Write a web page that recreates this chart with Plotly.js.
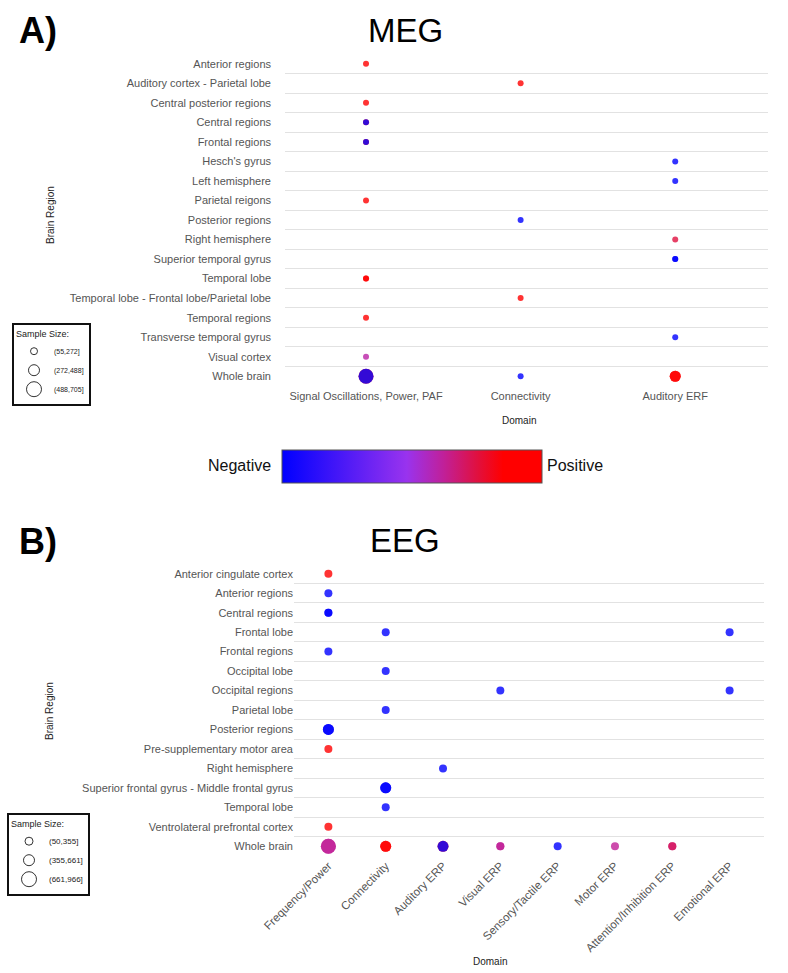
<!DOCTYPE html>
<html>
<head>
<meta charset="utf-8">
<script src="https://cdn.plot.ly/plotly-3.0.1.min.js"></script>
<style>html,body{margin:0;padding:0;background:#fff;}#chart{width:788px;height:973px;}</style>
</head>
<body>
<div id="chart"></div>
<script>
// ---------------- DATA ----------------
// MEG
const megRegions = [
  'Anterior regions','Auditory cortex - Parietal lobe','Central posterior regions','Central regions',
  'Frontal regions',"Hesch's gyrus",'Left hemisphere','Parietal reigons','Posterior regions',
  'Right hemisphere','Superior temporal gyrus','Temporal lobe','Temporal lobe - Frontal lobe/Parietal lobe',
  'Temporal regions','Transverse temporal gyrus','Visual cortex','Whole brain'
];
const megDomains = ['Signal Oscillations, Power, PAF','Connectivity','Auditory ERF'];
const megSizeBins = ['(55,272]','(272,488]','(488,705]'];
// findings (one entry per reported finding; effect: -1 negative ... +1 positive; bin: sample-size bin index)
const megFindRegion = [
  'Anterior regions','Auditory cortex - Parietal lobe','Central posterior regions',
  'Central regions','Central regions','Frontal regions','Frontal regions',
  "Hesch's gyrus",'Left hemisphere','Parietal reigons','Posterior regions','Right hemisphere',
  'Superior temporal gyrus','Superior temporal gyrus','Temporal lobe','Temporal lobe',
  'Temporal lobe - Frontal lobe/Parietal lobe','Temporal regions','Transverse temporal gyrus','Visual cortex',
  'Whole brain','Whole brain','Whole brain','Whole brain','Whole brain'
];
const megFindDomain = [
  'Signal Oscillations, Power, PAF','Connectivity','Signal Oscillations, Power, PAF',
  'Signal Oscillations, Power, PAF','Signal Oscillations, Power, PAF','Signal Oscillations, Power, PAF','Signal Oscillations, Power, PAF',
  'Auditory ERF','Auditory ERF','Signal Oscillations, Power, PAF','Connectivity','Auditory ERF',
  'Auditory ERF','Auditory ERF','Signal Oscillations, Power, PAF','Signal Oscillations, Power, PAF',
  'Connectivity','Signal Oscillations, Power, PAF','Auditory ERF','Signal Oscillations, Power, PAF',
  'Signal Oscillations, Power, PAF','Signal Oscillations, Power, PAF','Connectivity','Auditory ERF','Auditory ERF'
];
const megFindEffect = [
  1, 1, 1,
  1, -1, 1, -1,
  -1, -1, 1, -1, 0.5,
  -1, -1, 1, 1,
  1, 1, -1, 0.2,
  1, -1, -1, 1, 1
];
const megFindBin = [
  0, 0, 0,
  0, 0, 0, 0,
  0, 0, 0, 0, 0,
  0, 0, 0, 0,
  0, 0, 0, 0,
  2, 2, 0, 1, 1
];

// EEG
const eegRegions = [
  'Anterior cingulate cortex','Anterior regions','Central regions','Frontal lobe','Frontal regions',
  'Occipital lobe','Occipital regions','Parietal lobe','Posterior regions','Pre-supplementary motor area',
  'Right hemisphere','Superior frontal gyrus - Middle frontal gyrus','Temporal lobe',
  'Ventrolateral prefrontal cortex','Whole brain'
];
const eegDomains = ['Frequency/Power','Connectivity','Auditory ERP','Visual ERP','Sensory/Tactile ERP',
  'Motor ERP','Attention/Inhibition ERP','Emotional ERP'];
const eegSizeBins = ['(50,355]','(355,661]','(661,966]'];
const eegFindRegion = [
  'Anterior cingulate cortex','Anterior regions','Central regions','Central regions',
  'Frontal lobe','Frontal lobe','Frontal regions','Occipital lobe','Occipital regions','Occipital regions',
  'Parietal lobe','Posterior regions','Posterior regions','Pre-supplementary motor area','Right hemisphere',
  'Superior frontal gyrus - Middle frontal gyrus','Superior frontal gyrus - Middle frontal gyrus',
  'Temporal lobe','Ventrolateral prefrontal cortex',
  'Whole brain','Whole brain','Whole brain','Whole brain','Whole brain','Whole brain',
  'Whole brain','Whole brain','Whole brain','Whole brain','Whole brain','Whole brain'
];
const eegFindDomain = [
  'Frequency/Power','Frequency/Power','Frequency/Power','Frequency/Power',
  'Connectivity','Emotional ERP','Frequency/Power','Connectivity','Visual ERP','Emotional ERP',
  'Connectivity','Frequency/Power','Frequency/Power','Frequency/Power','Auditory ERP',
  'Connectivity','Connectivity',
  'Connectivity','Frequency/Power',
  'Frequency/Power','Frequency/Power','Connectivity','Connectivity','Auditory ERP','Auditory ERP',
  'Visual ERP','Visual ERP','Sensory/Tactile ERP','Motor ERP','Attention/Inhibition ERP','Attention/Inhibition ERP'
];
const eegFindEffect = [
  1, -1, -1, -1,
  -1, -1, -1, -1, -1, -1,
  -1, -1, -1, 1, -1,
  -1, -1,
  -1, 1,
  0.25, 0.25, 1, 1, 1, -1,
  0.25, 0.25, -1, 0.25, 0.4, 0.4
];
const eegFindBin = [
  0, 0, 0, 0,
  0, 0, 0, 0, 0, 0,
  0, 1, 1, 0, 0,
  1, 1,
  0, 0,
  2, 2, 1, 1, 1, 1,
  0, 0, 0, 0, 0, 0
];

// ---------------- STYLE ----------------
const FONT = 'Liberation Sans, Arial, Helvetica, sans-serif';
const W = 788, H = 973;
const MEG_BIN_PX = [6, 11, 15];
const EEG_BIN_PX = [8, 11, 15];
const LEG_MEG_PX = [7, 11, 15];
const LEG_EEG_PX = [8, 11, 15];
const effectScale = [
  [0, '#0000ff'], [0.48, '#9933ee'], [0.62, '#c0209a'], [0.75, '#e01040'], [0.85, '#ff0000'], [1, '#ff0000']
];
const px = (x) => x / W;
const py = (y) => 1 - y / H;

const traces = [];
traces.push({
  type: 'scatter', mode: 'markers', xaxis: 'x', yaxis: 'y', showlegend: false,
  x: megFindDomain, y: megFindRegion,
  marker: {
    size: megFindBin.map(b => MEG_BIN_PX[b]), color: megFindEffect,
    colorscale: effectScale, cmin: -1, cmax: 1, opacity: 0.8, line: {width: 0},
    showscale: true,
    colorbar: {
      orientation: 'h', lenmode: 'pixels', len: 260, thickness: 33,
      x: px(282), xanchor: 'left', y: py(483.5), yanchor: 'bottom',
      xpad: 0, ypad: 0, outlinewidth: 1, outlinecolor: '#555',
      showticklabels: false, ticks: '', title: {text: ''}
    }
  },
  hoverinfo: 'x+y'
});
traces.push({
  type: 'scatter', mode: 'markers', xaxis: 'x2', yaxis: 'y2', showlegend: false,
  x: eegFindDomain, y: eegFindRegion,
  marker: {
    size: eegFindBin.map(b => EEG_BIN_PX[b]), color: eegFindEffect,
    colorscale: effectScale, cmin: -1, cmax: 1, opacity: 0.8, line: {width: 0},
    showscale: false
  },
  hoverinfo: 'x+y'
});
megSizeBins.forEach((lab, i) => traces.push({
  type: 'scatter', mode: 'markers', xaxis: 'x', yaxis: 'y', x: [null], y: [null],
  name: lab, legend: 'legend', showlegend: true,
  marker: {symbol: 'circle-open', size: LEG_MEG_PX[i], color: '#333', line: {width: 1}}
}));
eegSizeBins.forEach((lab, i) => traces.push({
  type: 'scatter', mode: 'markers', xaxis: 'x2', yaxis: 'y2', x: [null], y: [null],
  name: lab, legend: 'legend2', showlegend: true,
  marker: {symbol: 'circle-open', size: LEG_EEG_PX[i], color: '#333', line: {width: 1}}
}));

const tickFont = {family: FONT, size: 11, color: '#555'};
const titleFont = {family: FONT, size: 10, color: '#222'};
const legendCommon = {
  xanchor: 'left', yanchor: 'top', bgcolor: '#fff', bordercolor: '#111', borderwidth: 2,
  itemsizing: 'trace', tracegroupgap: 0,
  title: {text: 'Sample Size:', font: {family: FONT, size: 9, color: '#222'}},
  itemclick: false, itemdoubleclick: false
};

function ann(text, x, y, opts) {
  return Object.assign({text: text, x: px(x), y: py(y), xref: 'paper', yref: 'paper',
    xanchor: 'center', yanchor: 'middle', showarrow: false}, opts);
}

const layout = {
  width: W, height: H, margin: {l: 0, r: 0, t: 0, b: 0},
  paper_bgcolor: '#fff', plot_bgcolor: '#fff', font: {family: FONT},
  xaxis: {
    domain: [px(285), px(768)], anchor: 'y', type: 'category',
    categoryorder: 'array', categoryarray: megDomains, range: [-0.524, 2.6],
    showgrid: false, zeroline: false, showline: false, ticks: '', ticklabelstandoff: 2,
    tickfont: tickFont
  },
  yaxis: {
    domain: [py(386), py(54)], anchor: 'x', type: 'category',
    categoryorder: 'array', categoryarray: megRegions, range: [megRegions.length - 0.5, -0.5],
    showgrid: true, gridcolor: '#e2e2e2', gridwidth: 1, tickson: 'boundaries',
    zeroline: false, showline: false, ticks: '', ticklabelstandoff: 13,
    tickfont: tickFont
  },
  xaxis2: {
    domain: [px(294), px(764)], anchor: 'y2', type: 'category',
    categoryorder: 'array', categoryarray: eegDomains, range: [-0.6, 7.6],
    showgrid: false, zeroline: false, showline: false, ticks: '', tickangle: -45,
    tickfont: {family: FONT, size: 11.5, color: '#555'}
  },
  yaxis2: {
    domain: [py(856), py(564)], anchor: 'x2', type: 'category',
    categoryorder: 'array', categoryarray: eegRegions, range: [eegRegions.length - 0.5, -0.5],
    showgrid: true, gridcolor: '#e2e2e2', gridwidth: 1, tickson: 'boundaries',
    zeroline: false, showline: false, ticks: '', ticklabelstandoff: 0,
    tickfont: tickFont
  },
  legend: Object.assign({x: px(12), y: py(323), font: {family: FONT, size: 7, color: '#222'}}, legendCommon),
  legend2: Object.assign({x: px(7), y: py(813), font: {family: FONT, size: 8, color: '#222'}}, legendCommon),
  annotations: [
    ann('<b>A)</b>', 17, 31, {xanchor: 'left', font: {family: FONT, size: 36, color: '#000'}}),
    ann('MEG', 405, 30, {font: {family: FONT, size: 33, color: '#000'}}),
    ann('<b>B)</b>', 17, 541, {xanchor: 'left', font: {family: FONT, size: 36, color: '#000'}}),
    ann('EEG', 405, 540, {font: {family: FONT, size: 33, color: '#000'}}),
    ann('Negative', 273, 466, {xanchor: 'right', font: {family: FONT, size: 16, color: '#111'}}),
    ann('Positive', 545, 466, {xanchor: 'left', font: {family: FONT, size: 16, color: '#111'}}),
    ann('Brain Region', 50, 215, {textangle: -90, font: titleFont}),
    ann('Domain', 519, 420, {font: titleFont}),
    ann('Brain Region', 49, 711, {textangle: -90, font: titleFont}),
    ann('Domain', 490, 961, {font: titleFont})
  ]
};

Plotly.newPlot('chart', traces, layout, {displayModeBar: false, staticPlot: true});
</script>
</body>
</html>
